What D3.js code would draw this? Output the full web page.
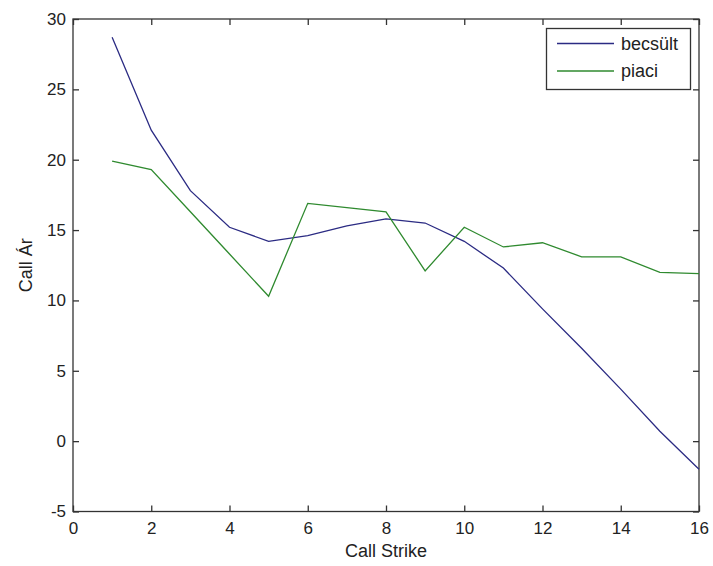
<!DOCTYPE html>
<html lang="hu">
    <head>
        <meta charset="utf-8">
        <title>Call Ár</title>
        <script type="text/javascript" src="https://cdn.jsdelivr.net/npm/d3@7"></script>
        <style>
            body { margin: 0; background: #fff; }
            svg text { font-family: Arial, "Liberation Sans", Helvetica, sans-serif; fill: #222; }
        </style>
    </head>
    <body>
        <script type="text/javascript">
          // values
          var strikes = [1, 2, 3, 4, 5, 6, 7, 8, 9, 10, 11, 12, 13, 14, 15, 16];
          var becsult = [28.7, 22.1, 17.8, 15.2, 14.2, 14.6, 15.3, 15.8, 15.5, 14.2, 12.3, 9.4, 6.6, 3.7, 0.7, -2.0];
          var piaci = [19.9, 19.3, 16.3, 13.3, 10.3, 16.9, 16.6, 16.3, 12.1, 15.2, 13.8, 14.1, 13.1, 13.1, 12.0, 11.9];
          var xTicks = [0, 2, 4, 6, 8, 10, 12, 14, 16];
          var yTicks = [-5, 0, 5, 10, 15, 20, 25, 30];
          var seriesNames = ["becsült", "piaci"];
          var seriesColors = ["#2b2b83", "#2f8a2f"];

          var w = 713;
          var h = 566;
          var padL = 73, padR = 699, padT = 19, padB = 511.5;
          var tickLen = 6;

          var svg = d3.select("body").append("svg")
                      .attr("width", w)
                      .attr("height", h);

          var xScale = d3.scaleLinear().domain([0, 16]).range([padL, padR]);
          var yScale = d3.scaleLinear().domain([-5, 30]).range([padB, padT]);

          // box
          svg.append("rect")
             .attr("x", padL).attr("y", padT)
             .attr("width", padR - padL).attr("height", padB - padT)
             .attr("fill", "none").attr("stroke", "#333").attr("stroke-width", 1.3);

          // axes with inward ticks, plain hyphen for negatives
          var fmt = function(d) { return String(d); };

          var xAxis = d3.axisBottom(xScale).tickValues(xTicks).tickFormat(fmt).tickSizeInner(-tickLen).tickSizeOuter(0).tickPadding(10);
          var gx = svg.append("g")
                 .attr("transform", "translate(0," + padB + ")")
                 .call(xAxis);
          gx.select(".domain").remove();
          gx.selectAll("text").style("font-size", "17px").attr("fill", "#222");
          gx.selectAll("line").attr("stroke", "#333").attr("stroke-width", 1.3);

          var xTop = d3.axisTop(xScale).tickValues(xTicks).tickSizeInner(-tickLen).tickSizeOuter(0).tickFormat("");
          var gxt = svg.append("g").attr("transform", "translate(0," + padT + ")").call(xTop);
          gxt.select(".domain").remove();
          gxt.selectAll("line").attr("stroke", "#333").attr("stroke-width", 1.3);

          var yAxis = d3.axisLeft(yScale).tickValues(yTicks).tickFormat(fmt).tickSizeInner(-tickLen).tickSizeOuter(0).tickPadding(7);
          var gy = svg.append("g")
                 .attr("transform", "translate(" + padL + ",0)")
                 .call(yAxis);
          gy.select(".domain").remove();
          gy.selectAll("text").style("font-size", "17px").attr("fill", "#222");
          gy.selectAll("line").attr("stroke", "#333").attr("stroke-width", 1.3);

          var yRight = d3.axisRight(yScale).tickValues(yTicks).tickSizeInner(-tickLen).tickSizeOuter(0).tickFormat("");
          var gyr = svg.append("g").attr("transform", "translate(" + padR + ",0)").call(yRight);
          gyr.select(".domain").remove();
          gyr.selectAll("line").attr("stroke", "#333").attr("stroke-width", 1.3);

          // lines
          var line = d3.line()
                       .x(function(d) { return xScale(d[0]); })
                       .y(function(d) { return yScale(d[1]); });

          [becsult, piaci].forEach(function(vals, i) {
            svg.append("path")
               .datum(strikes.map(function(s, j) { return [s, vals[j]]; }))
               .attr("fill", "none")
               .attr("stroke", seriesColors[i])
               .attr("stroke-width", 1.3)
               .attr("d", line);
          });

          // axis labels
          svg.append("text")
             .attr("x", (padL + padR) / 2)
             .attr("y", 557)
             .attr("text-anchor", "middle")
             .style("font-size", "18px")
             .text("Call Strike");

          svg.append("text")
             .attr("transform", "rotate(-90)")
             .attr("x", -(padT + padB) / 2)
             .attr("y", 32)
             .attr("text-anchor", "middle")
             .style("font-size", "18px")
             .text("Call Ár");

          // legend
          var lg = svg.append("g");
          lg.append("rect")
            .attr("x", 546.5).attr("y", 28.5)
            .attr("width", 144).attr("height", 61)
            .attr("fill", "#fff").attr("stroke", "#333").attr("stroke-width", 1.3);
          seriesNames.forEach(function(name, i) {
            var ly = 43.5 + i * 27.5;
            lg.append("line")
              .attr("x1", 557).attr("x2", 614)
              .attr("y1", ly).attr("y2", ly)
              .attr("stroke", seriesColors[i]).attr("stroke-width", 1.3);
            lg.append("text")
              .attr("x", 621).attr("y", ly + 6)
              .style("font-size", "18px")
              .text(name);
          });
        </script>
    </body>
</html>
